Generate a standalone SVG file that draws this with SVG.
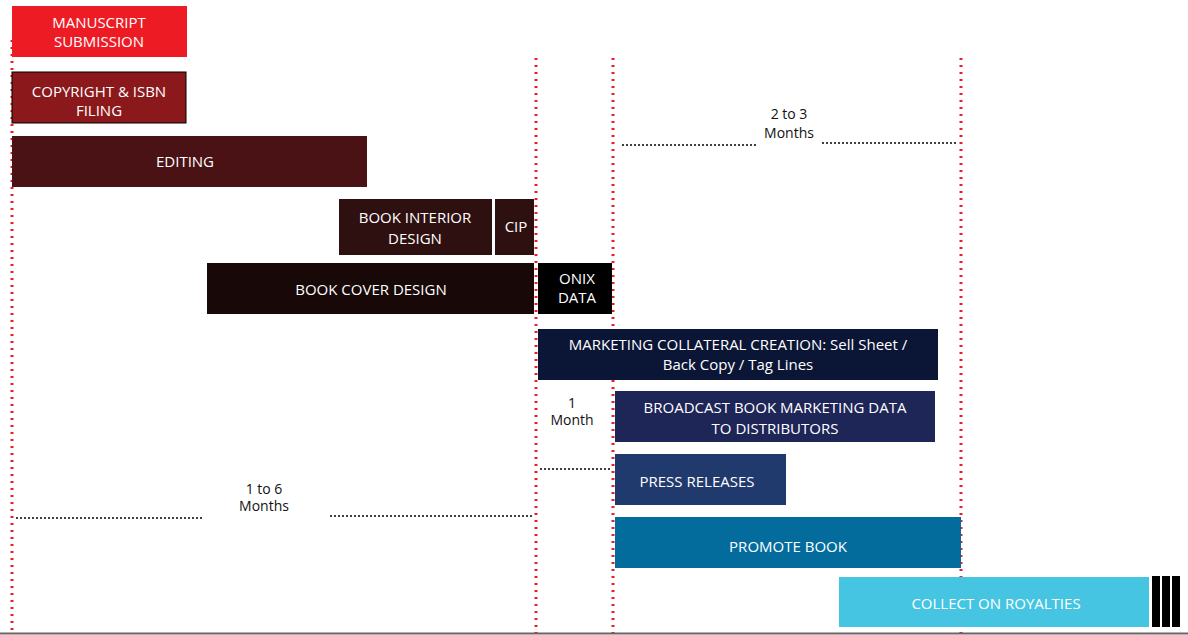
<svg xmlns="http://www.w3.org/2000/svg" width="1188" height="635" viewBox="0 0 1188 635">
<style>
text{font-family:"Open Sans","Liberation Sans",sans-serif;font-size:15px;fill:#fff;text-anchor:middle}
.d{stroke:#e8202a;stroke-width:3;stroke-dasharray:2 5;fill:none}
.s{stroke:#000;stroke-width:1.5;stroke-dasharray:2 2;fill:none}
.l{fill:#111;font-size:14px}
</style>
<rect width="1188" height="635" fill="#fff"/>
<line x1="0" y1="633.5" x2="1188" y2="633.5" stroke="#666" stroke-width="2"/>
<g id="connectors">
<line class="d" x1="12" y1="40" x2="12" y2="633"/>
<line class="d" x1="536" y1="58" x2="536" y2="633"/>
<line class="d" x1="613" y1="58" x2="613" y2="633"/>
<line class="d" x1="961" y1="58" x2="961" y2="633"/>
<line class="s" x1="622" y1="145" x2="758" y2="145"/>
<line class="s" x1="822" y1="143" x2="956" y2="143"/>
<line class="s" x1="540" y1="469" x2="612" y2="469"/>
<line class="s" x1="16" y1="518" x2="204" y2="518"/>
<line class="s" x1="330" y1="516" x2="533" y2="516"/>
<text class="l" x="789" y="119">2 to 3</text><text class="l" x="789" y="138">Months</text>
<text class="l" x="572" y="408" font-size="13">1</text><text class="l" x="572" y="425">Month</text>
<text class="l" x="264" y="494">1 to 6</text><text class="l" x="264" y="511">Months</text>
</g>
<g id="manuscript"><rect x="12" y="6" width="175" height="51" fill="#ed1c24"/><text x="99" y="28">MANUSCRIPT</text><text x="99" y="47">SUBMISSION</text></g>
<g id="copyright"><rect x="12" y="72" width="174" height="51" fill="#8b191c" stroke="#000"/><text x="99" y="97">COPYRIGHT &amp; ISBN</text><text x="99" y="116">FILING</text></g>
<g id="editing"><rect x="12" y="136" width="355" height="51" fill="#4a1214"/><text x="185" y="167">EDITING</text></g>
<g id="interior"><rect x="339" y="199" width="153" height="56" fill="#2e1010"/><text x="415" y="223">BOOK INTERIOR</text><text x="415" y="244">DESIGN</text></g>
<g id="cip"><rect x="495" y="199" width="39" height="56" fill="#2e1010"/><text x="516" y="232">CIP</text></g>
<g id="cover"><rect x="207" y="263" width="327" height="51" fill="#180808"/><text x="371" y="295">BOOK COVER DESIGN</text></g>
<g id="onix"><rect x="538" y="263" width="74" height="51" fill="#000"/><text x="577" y="284">ONIX</text><text x="577" y="303">DATA</text></g>
<g id="marketing"><rect x="538" y="329" width="400" height="51" fill="#0b1535"/><text x="738" y="350">MARKETING COLLATERAL CREATION: Sell Sheet /</text><text x="738" y="370">Back Copy / Tag Lines</text></g>
<g id="broadcast"><rect x="615" y="391" width="320" height="51" fill="#1e2557"/><text x="775" y="413">BROADCAST BOOK MARKETING DATA</text><text x="775" y="434">TO DISTRIBUTORS</text></g>
<g id="press"><rect x="615" y="454" width="171" height="51" fill="#213a6e"/><text x="697" y="487">PRESS RELEASES</text></g>
<g id="promote"><rect x="615" y="517" width="346" height="51" fill="#036c9d"/><text x="788" y="552">PROMOTE BOOK</text></g>
<g id="royalties"><rect x="839" y="577" width="310" height="50" fill="#46c5e2"/><text x="996" y="609">COLLECT ON ROYALTIES</text></g>
<g id="bars"><rect x="1152" y="576" width="8" height="51" fill="#000"/><rect x="1162" y="576" width="8" height="51" fill="#000"/><rect x="1172" y="576" width="8" height="51" fill="#000"/></g>
</svg>
